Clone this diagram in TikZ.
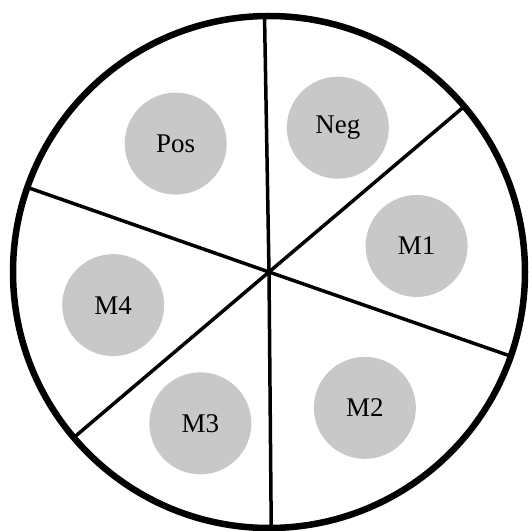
\documentclass[tikz,border=0pt]{standalone}
\usepackage{fontspec}
\setmainfont{Liberation Serif}
\usetikzlibrary{calc}
\definecolor{DiscGray}{RGB}{200,200,200}
\tikzset{
  wellnode/.style={circle,fill=DiscGray,minimum size=102pt,inner sep=0pt,font=\fontsize{27}{30}\selectfont},
  rimline/.style={line width=6.5pt},
  spoke/.style={line width=3.5pt}
}
\begin{document}
\begin{tikzpicture}[x=1pt,y=1pt]
\useasboundingbox (0,0) rectangle (529,531);
\coordinate (hub) at (269,259);
\draw[rimline] (hub) circle (256);

% six dividing spokes
\foreach \a [count=\i] in {91,40.3,-19.2,-89.5,220.3,160.7}{
  \coordinate (rim\i) at ($(hub)+(\a:256)$);
  \draw[spoke] (hub) -- (rim\i);
}

\node[wellnode] (pos) at ($(hub)+(126:158.7)$) {Pos};
\node[wellnode] (neg) at ($(hub)+(64.5:159.9)$) {Neg};
\node[wellnode] (m1) at ($(hub)+(10:149.9)$) {M1};
\node[wellnode] (m2) at ($(hub)+(-54.8:166.3)$) {M2};
\node[wellnode] (m3) at ($(hub)+(245.6:166.2)$) {M3};
\node[wellnode] (m4) at ($(hub)+(192:159.3)$) {M4};
\end{tikzpicture}
\end{document}
